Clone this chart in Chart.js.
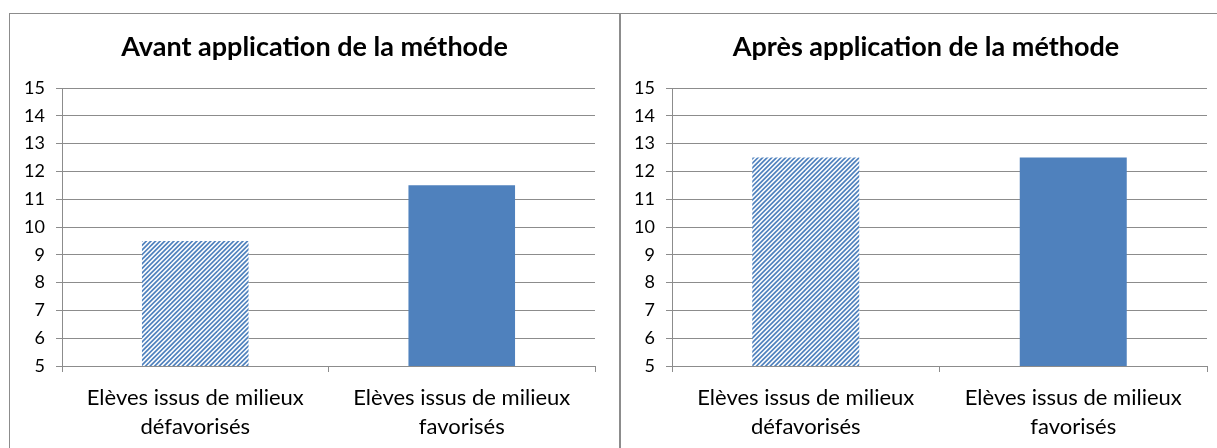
<!DOCTYPE html>
<html>
<head>
<meta charset="utf-8">
<script src="https://cdn.jsdelivr.net/npm/chart.js@4"></script>
<style>
  html, body { margin: 0; padding: 0; background: #fff; }
  body { width: 1217px; height: 448px; position: relative; overflow: hidden; }
  .panel { position: absolute; box-sizing: border-box; background: #fff; }
  #p1 { left: 9px; top: 13px; width: 612px; height: 500px; border-left: 1px solid #8c8c8c; border-top: 1px solid #8c8c8c; }
  #p2 { left: 619px; top: 13px; width: 700px; height: 500px; border-left: 2px solid #8c8c8c; border-top: 1px solid #8c8c8c; }
  .wrap { position: absolute; }
  #w1 { left: 10px; top: 14px; width: 609px; height: 434px; }
  #w2 { left: 621px; top: 14px; width: 610px; height: 434px; }
</style>
</head>
<body>
<div class="panel" id="p1"></div>
<div class="panel" id="p2"></div>
<div class="wrap" id="w1"><canvas id="c1"></canvas></div>
<div class="wrap" id="w2"><canvas id="c2"></canvas></div>
<script>
// ---- data ----
const categories = [
  ["Elèves issus de milieux", "défavorisés"],
  ["Elèves issus de milieux", "favorisés"]
];
const titleAvant = "Avant application de la méthode";
const titleApres = "Après application de la méthode";
const avantValues = [9.5, 11.5];
const apresValues = [12.5, 12.5];
const yMin = 5;
const yMax = 15;
const yStep = 1;

// ---- styles ----
const BLUE = '#4F81BD';
const GRID = '#8c8c8c';
const FONT = 'Lato, "Open Sans", "DejaVu Sans", sans-serif';

function makeHatch() {
  const T = 23, P = 4.6;
  const c = document.createElement('canvas');
  c.width = T; c.height = T;
  const g = c.getContext('2d');
  g.fillStyle = '#ffffff';
  g.fillRect(0, 0, T, T);
  g.strokeStyle = BLUE;
  g.lineWidth = 1.7;
  for (let k = -2; k <= 12; k++) {
    const s = k * P;
    g.beginPath();
    g.moveTo(s + 2, -2);
    g.lineTo(s - T - 2, T + 2);
    g.stroke();
  }
  return document.getElementById('c1').getContext('2d').createPattern(c, 'repeat');
}

function buildChart(canvasId, title, values, yWidth) {
  const hatch = makeHatch();
  return new Chart(document.getElementById(canvasId), {
    type: 'bar',
    data: {
      labels: categories,
      datasets: [{
        data: values,
        backgroundColor: [hatch, BLUE],
        borderWidth: 0,
        barPercentage: 0.4,
        categoryPercentage: 1.0
      }]
    },
    options: {
      responsive: true,
      maintainAspectRatio: false,
      animation: false,
      layout: { padding: 0 },
      plugins: {
        legend: { display: false },
        tooltip: { enabled: false },
        title: {
          display: true,
          text: title,
          color: '#000',
          font: { family: FONT, size: 27, weight: 'bold', lineHeight: 1.2 },
          padding: { top: 17, bottom: 24.6 }
        }
      },
      scales: {
        x: {
          grid: { display: true, drawOnChartArea: false, drawTicks: true, tickLength: 6, color: GRID, lineWidth: 1, offset: true },
          border: { display: true, color: GRID, width: 1 },
          ticks: {
            color: '#000',
            font: { family: FONT, size: 22, lineHeight: '29px' },
            padding: 11,
            maxRotation: 0,
            autoSkip: false
          },
          afterFit: (s) => { s.height = 82; }
        },
        y: {
          min: yMin,
          max: yMax,
          grid: { color: GRID, lineWidth: 1, tickLength: 6, drawTicks: true },
          border: { display: true, color: GRID, width: 1 },
          ticks: {
            stepSize: yStep,
            color: '#000',
            font: { family: FONT, size: 18 },
            padding: 11
          },
          afterFit: (s) => { s.width = yWidth; }
        },
        rightSpace: {
          type: 'linear',
          position: 'right',
          display: true,
          grid: { display: false, drawTicks: false },
          border: { display: false },
          ticks: { display: false },
          afterFit: (s) => { s.width = 24; }
        }
      }
    }
  });
}

buildChart('c1', titleAvant, avantValues, 52);
buildChart('c2', titleApres, apresValues, 51);
</script>
</body>
</html>
